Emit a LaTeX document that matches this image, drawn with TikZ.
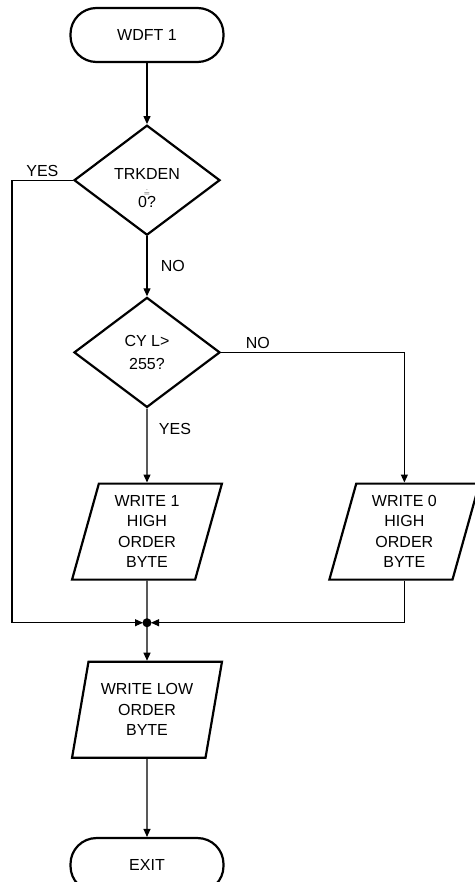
\documentclass[tikz,border=0pt]{standalone}
\usepackage{fontspec}
\setmainfont{Liberation Sans}
\usetikzlibrary{arrows.meta, positioning, shapes.geometric}

\begin{document}
\begin{tikzpicture}[
    x=1pt, y=-1pt,
    node distance=60pt,
    font=\fontsize{16}{20.5}\selectfont,
    term/.style={draw, line width=2.2pt, rounded corners=26pt, minimum width=153pt, minimum height=54pt, inner sep=0pt},
    test/.style={draw, diamond, aspect=1.33, line width=2.2pt, minimum width=146pt, minimum height=110pt, inner sep=0pt, align=center},
    io/.style={draw, trapezium, trapezium left angle=76, trapezium right angle=104, trapezium stretches=true, line width=2.2pt, minimum width=150pt, minimum height=96pt, inner sep=0pt, align=center},
    flow/.style={draw, line width=1.2pt},
    >={Triangle[length=8pt, width=7pt]}]
  \useasboundingbox (0,0) rectangle (474,882);
  \node[term] (start) at (147,35) {WDFT 1};
  \node[test, below=61pt of start] (trk) {\rule{0pt}{27pt}TRKDEN\\[-5pt]{\scriptsize$\doteq$}\\[-8pt]0?};
  \node[test, below=60pt of trk] (cyl) {CY L>\\[3pt]255?};
  \node[io, below=74pt of cyl] (hi1) {WRITE 1\\HIGH\\ORDER\\BYTE};
  \node[io, right=132pt of hi1] (hi0) {WRITE 0\\HIGH\\ORDER\\BYTE};
  \coordinate[below=42pt of hi1.south] (jn);
  \node[io, below=38pt of jn] (lo) {WRITE LOW\\ORDER\\BYTE};
  \node[term, below=78pt of lo] (exit) {EXIT};
  \fill (jn) circle (4.5pt);
  \draw[flow, ->] (start) -- (trk);
  \draw[flow, ->] (trk) -- node[right=10pt]{NO} (cyl);
  \draw[flow, ->, shorten >=4pt] (trk.west) -- node[above]{YES} ++(-61,0) |- (jn);
  \draw[flow, ->] (cyl) -- node[right=8pt, pos=0.28]{YES} (hi1);
  \draw[flow, ->] (cyl.east) -| node[above, pos=0.1]{NO} (hi0.north);
  \draw[flow] (hi1) -- (jn);
  \draw[flow, ->, shorten >=4pt] (hi0.south) |- (jn);
  \draw[flow, ->] (jn) -- (lo);
  \draw[flow, ->] (lo) -- (exit);
\end{tikzpicture}
\end{document}
